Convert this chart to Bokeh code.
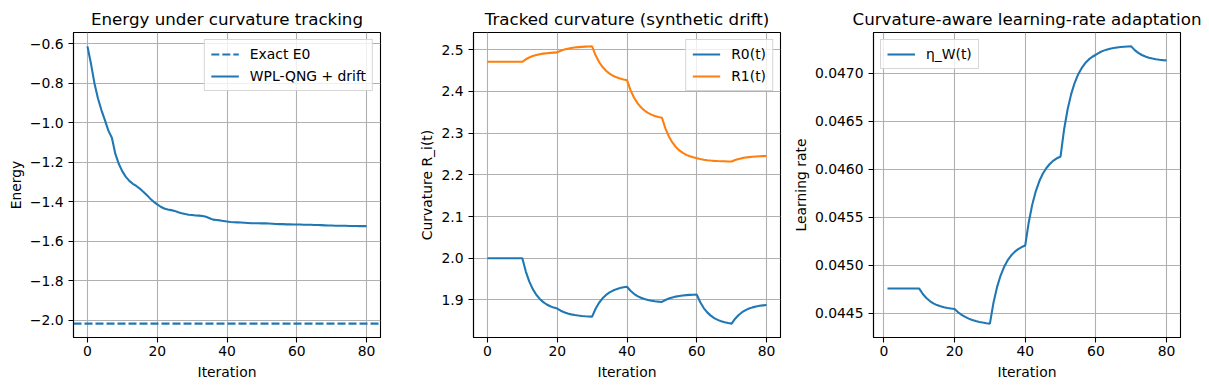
from bokeh.plotting import figure
from bokeh.layouts import row
from bokeh.models import Range1d, FixedTicker, Legend, LegendItem
from bokeh.embed import file_html
from bokeh.resources import INLINE

# ---------------- data ----------------
iterations = list(range(0, 81))
lr_iterations = list(range(1, 81))

exact_e0 = -2.016

energy = [
    -0.614, -0.701, -0.800, -0.876, -0.936, -0.987, -1.040, -1.076, -1.158, -1.209,
    -1.246, -1.274, -1.294, -1.309, -1.320, -1.333, -1.349, -1.366, -1.384, -1.400,
    -1.413, -1.425, -1.434, -1.439, -1.442, -1.446, -1.453, -1.458, -1.462, -1.465,
    -1.467, -1.469, -1.470, -1.472, -1.476, -1.483, -1.490, -1.492, -1.494, -1.497,
    -1.500, -1.502, -1.503, -1.504, -1.505, -1.506, -1.507, -1.508, -1.508, -1.508,
    -1.509, -1.509, -1.510, -1.511, -1.512, -1.513, -1.513, -1.514, -1.514, -1.515,
    -1.515, -1.515, -1.516, -1.516, -1.516, -1.517, -1.517, -1.518, -1.519, -1.520,
    -1.520, -1.521, -1.521, -1.521, -1.521, -1.522, -1.522, -1.522, -1.523, -1.523,
    -1.523,
]

r0 = [
    2.000, 2.000, 2.000, 2.000, 2.000, 2.000, 2.000, 2.000, 2.000, 2.000,
    2.000, 1.968, 1.944, 1.926, 1.9125, 1.9024, 1.8948, 1.8891, 1.8848, 1.8816,
    1.8792, 1.8742, 1.8704, 1.8675, 1.8654, 1.8638, 1.8626, 1.8617, 1.8610, 1.8605,
    1.8601, 1.8790, 1.8933, 1.9039, 1.9120, 1.9180, 1.9225, 1.9259, 1.9284, 1.9303,
    1.9317, 1.9220, 1.9148, 1.9093, 1.9053, 1.9022, 1.8999, 1.8982, 1.8969, 1.8959,
    1.8952, 1.8999, 1.9034, 1.9061, 1.9080, 1.9095, 1.9107, 1.9115, 1.9121, 1.9126,
    1.9129, 1.8944, 1.8806, 1.8702, 1.8624, 1.8565, 1.8522, 1.8489, 1.8464, 1.8446,
    1.8432, 1.8551, 1.8639, 1.8706, 1.8756, 1.8794, 1.8822, 1.8843, 1.8859, 1.8870,
    1.8879,
]

r1 = [
    2.471, 2.471, 2.471, 2.471, 2.471, 2.471, 2.471, 2.471, 2.471, 2.471,
    2.471, 2.4770, 2.4814, 2.4848, 2.4873, 2.4892, 2.4906, 2.4916, 2.4924, 2.4930,
    2.4935, 2.4974, 2.5002, 2.5024, 2.5040, 2.5053, 2.5062, 2.5068, 2.5074, 2.5077,
    2.5080, 2.4866, 2.4705, 2.4584, 2.4494, 2.4426, 2.4375, 2.4337, 2.4308, 2.4286,
    2.4270, 2.4032, 2.3853, 2.3719, 2.3618, 2.3542, 2.3486, 2.3443, 2.3412, 2.3388,
    2.3370, 2.3113, 2.2920, 2.2776, 2.2667, 2.2586, 2.2525, 2.2479, 2.2445, 2.2419,
    2.2400, 2.2379, 2.2363, 2.2351, 2.2342, 2.2335, 2.2330, 2.2326, 2.2324, 2.2321,
    2.2320, 2.2355, 2.2380, 2.2400, 2.2414, 2.2425, 2.2433, 2.2440, 2.2444, 2.2448,
    2.2450,
]

eta_w = [
    0.044757, 0.044757, 0.044757, 0.044757, 0.044757, 0.044757, 0.044757, 0.044757, 0.044757, 0.044757,
    0.044701, 0.044659, 0.044627, 0.044603, 0.044585, 0.044572, 0.044562, 0.044555, 0.044549, 0.044545,
    0.044511, 0.044483, 0.044462, 0.044444, 0.044430, 0.044419, 0.044410, 0.044403, 0.044397, 0.044392,
    0.044608, 0.044769, 0.044890, 0.044981, 0.045050, 0.045101, 0.045139, 0.045168, 0.045189, 0.045206,
    0.045448, 0.045633, 0.045772, 0.045876, 0.045954, 0.046012, 0.046056, 0.046089, 0.046114, 0.046132,
    0.046413, 0.046623, 0.046781, 0.046899, 0.046988, 0.047054, 0.047104, 0.047142, 0.047170, 0.047191,
    0.047214, 0.047231, 0.047244, 0.047254, 0.047261, 0.047267, 0.047271, 0.047274, 0.047276, 0.047278,
    0.047239, 0.047210, 0.047188, 0.047172, 0.047160, 0.047151, 0.047144, 0.047139, 0.047135, 0.047132,
]

x_ticks = [0, 20, 40, 60, 80]
energy_ticks = [-2.0, -1.8, -1.6, -1.4, -1.2, -1.0, -0.8, -0.6]
energy_tick_labels = ["\u22122.0", "\u22121.8", "\u22121.6", "\u22121.4", "\u22121.2", "\u22121.0", "\u22120.8", "\u22120.6"]
curv_ticks = [1.9, 2.0, 2.1, 2.2, 2.3, 2.4, 2.5]
curv_tick_labels = ["1.9", "2.0", "2.1", "2.2", "2.3", "2.4", "2.5"]
lr_ticks = [0.0445, 0.045, 0.0455, 0.046, 0.0465, 0.047]
lr_tick_labels = ["0.0445", "0.0450", "0.0455", "0.0460", "0.0465", "0.0470"]

BLUE = "#1f77b4"
ORANGE = "#ff7f0e"
FONT = "DejaVu Sans"
FS = "13.9px"
LW = 2.08


def pad_range(vals):
    lo, hi = min(vals), max(vals)
    d = (hi - lo) * 0.05
    return lo - d, hi + d


def make_fig(width, left, right, title, xlab, ylab, xr, yr, yticks, ylabels):
    p = figure(width=width, height=389, output_backend="svg", toolbar_location=None,
               min_border_left=left, min_border_right=right, min_border_top=32, min_border_bottom=52,
               x_range=Range1d(*xr), y_range=Range1d(*yr))
    p.title.text = title
    p.title.text_font = FONT
    p.title.text_font_size = "16.7px"
    p.title.text_font_style = "normal"
    p.title.align = "center"
    p.title.text_color = "black"
    p.title.standoff = 8
    p.outline_line_color = "black"
    p.outline_line_width = 1.1
    p.outline_line_alpha = 1
    p.background_fill_color = "white"
    p.border_fill_color = "white"
    for ax in (p.xaxis[0], p.yaxis[0]):
        ax.axis_label_text_font = FONT
        ax.axis_label_text_font_size = FS
        ax.axis_label_text_font_style = "normal"
        ax.axis_label_text_color = "black"
        ax.major_label_text_font = FONT
        ax.major_label_text_font_size = FS
        ax.major_label_text_color = "black"
        ax.major_tick_out = 5
        ax.major_tick_in = 0
        ax.minor_tick_out = 0
        ax.minor_tick_in = 0
        ax.major_tick_line_color = "black"
        ax.major_tick_line_width = 1.1
        ax.axis_line_color = "black"
        ax.axis_line_width = 1.1
    p.xaxis.axis_label = xlab
    p.yaxis.axis_label = ylab
    p.xaxis.ticker = FixedTicker(ticks=x_ticks)
    p.yaxis.ticker = FixedTicker(ticks=yticks)
    p.yaxis.major_label_overrides = {t: s for t, s in zip(yticks, ylabels)}
    p.xaxis.major_label_standoff = 3
    p.xaxis.axis_label_standoff = 5
    p.yaxis.major_label_standoff = 5
    p.yaxis.axis_label_standoff = 3
    p.grid.grid_line_color = "#b0b0b0"
    p.grid.grid_line_width = 1.1
    p.grid.grid_line_alpha = 1
    return p


def style_legend(leg, loc):
    leg.location = loc
    leg.margin = 7
    leg.padding = 6
    leg.spacing = 6
    leg.glyph_width = 28
    leg.glyph_height = 14
    leg.label_height = 14
    leg.label_standoff = 11
    leg.label_text_font = FONT
    leg.label_text_font_size = FS
    leg.label_text_color = "black"
    leg.border_line_color = "#cccccc"
    leg.border_line_width = 1.4
    leg.border_line_alpha = 0.8
    leg.background_fill_color = "white"
    leg.background_fill_alpha = 0.8


# ---------- panel 1 ----------
y1 = pad_range(energy + [exact_e0])
x1 = pad_range(iterations)
p1 = make_fig(410, 73, 30, "Energy under curvature tracking", "Iteration", "Energy",
              x1, y1, energy_ticks, energy_tick_labels)
r_e0 = p1.line([x1[0], x1[1]], [exact_e0, exact_e0], line_color=BLUE, line_width=LW, line_dash="8 3")
r_en = p1.line(iterations, energy, line_color=BLUE, line_width=LW)
leg1 = Legend(items=[LegendItem(label="Exact E0", renderers=[r_e0]),
                     LegendItem(label="WPL-QNG + drift", renderers=[r_en])])
style_legend(leg1, "top_right")
p1.add_layout(leg1, "center")

# ---------- panel 2 ----------
y2 = pad_range(r0 + r1)
p2 = make_fig(375, 63, 5, "Tracked curvature (synthetic drift)", "Iteration", "Curvature R_i(t)",
              x1, y2, curv_ticks, curv_tick_labels)
ra = p2.line(iterations, r0, line_color=BLUE, line_width=LW)
rb = p2.line(iterations, r1, line_color=ORANGE, line_width=LW)
leg2 = Legend(items=[LegendItem(label="R0(t)", renderers=[ra]),
                     LegendItem(label="R1(t)", renderers=[rb])])
style_legend(leg2, "top_right")
p2.add_layout(leg2, "center")

# ---------- panel 3 ----------
y3 = pad_range(eta_w)
x3 = pad_range(lr_iterations)
p3 = make_fig(423, 88, 28, "Curvature-aware learning-rate adaptation", "Iteration", "Learning rate",
              x3, y3, lr_ticks, lr_tick_labels)
rc = p3.line(lr_iterations, eta_w, line_color=BLUE, line_width=LW)
leg3 = Legend(items=[LegendItem(label="\u03b7_W(t)", renderers=[rc])])
style_legend(leg3, "top_left")
p3.add_layout(leg3, "center")

layout = row(p1, p2, p3, spacing=0)
open("out.html", "w").write(file_html(layout, INLINE))
